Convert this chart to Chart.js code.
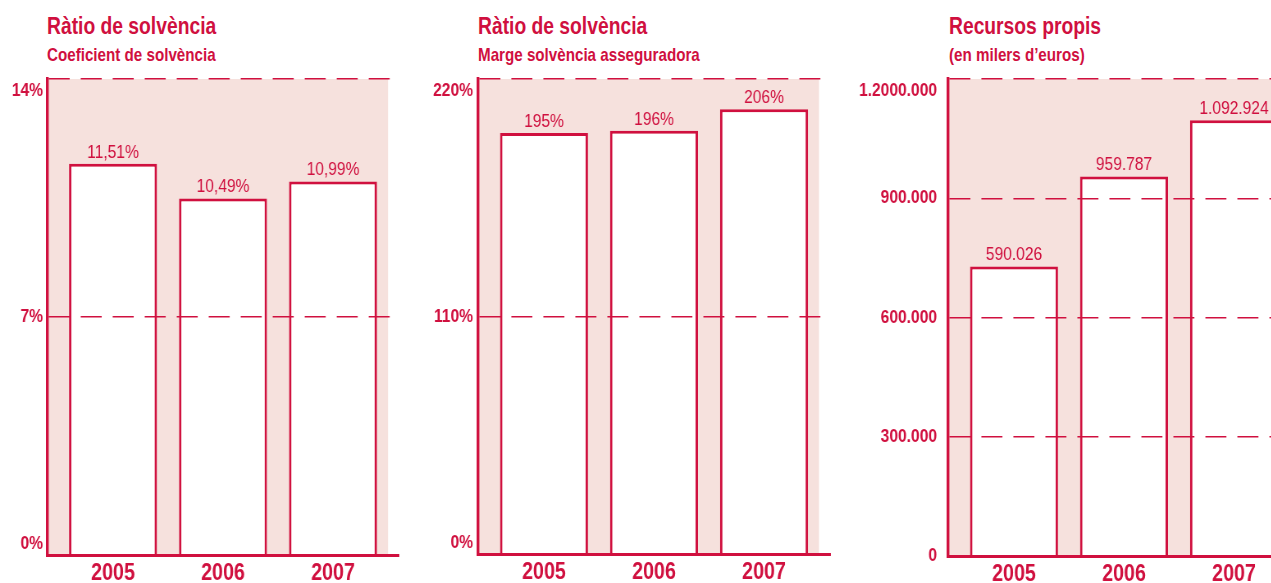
<!DOCTYPE html>
<html>
<head>
<meta charset="utf-8">
<script src="https://cdn.jsdelivr.net/npm/chart.js@4/dist/chart.umd.min.js"></script>
<style>
  body { margin: 0; width: 1271px; height: 583px; overflow: hidden; position: relative; background: #fff;
         font-family: 'Liberation Sans', Arial, sans-serif; color: #D0103F; }
  /* Liberation Sans squeezed to a condensed look */
  canvas { position: absolute; top: 0; transform: scaleX(0.82); transform-origin: 0 0; }
  .titol, .sub { position: absolute; white-space: nowrap; font-weight: bold; transform: scaleX(0.82); transform-origin: 0 0; }
  .titol { font-size: 23.5px; line-height: 23.5px; top: 15px; }
  .sub { font-size: 18.5px; line-height: 18.5px; top: 46px; }
</style>
</head>
<body>
<div class="titol" style="left:47px">Ràtio de solvència</div>
<div class="sub" style="left:47px">Coeficient de solvència</div>
<div class="titol" style="left:478px">Ràtio de solvència</div>
<div class="sub" style="left:478px">Marge solvència asseguradora</div>
<div class="titol" style="left:949px">Recursos propis</div>
<div class="sub" style="left:949px">(en milers d’euros)</div>

<canvas id="c1" style="left:0px"></canvas>
<canvas id="c2" style="left:420px"></canvas>
<canvas id="c3" style="left:840px"></canvas>

<script>
const anys = ['2005', '2006', '2007'];

const coeficient = [11.51, 10.49, 10.99];
const coeficientEtiq = ['11,51%', '10,49%', '10,99%'];
const coeficientTics = [0, 7, 14];
const coeficientTicsEtiq = ['0%', '7%', '14%'];

const marge = [195, 196, 206];
const margeEtiq = ['195%', '196%', '206%'];
const margeTics = [0, 110, 220];
const margeTicsEtiq = ['0%', '110%', '220%'];

// bar heights as drawn in the picture (the 2005 bar is drawn taller than its label says)
const recursos = [728500, 955000, 1096000];
const recursosEtiq = ['590.026', '959.787', '1.092.924'];
const recursosTics = [0, 300000, 600000, 900000, 1200000];
const recursosTicsEtiq = ['0', '300.000', '600.000', '900.000', '1.2000.000'];

const VERMELL = '#D0103F';
const ROSA = '#F6E1DD';
const FONT = "'Liberation Sans', Arial, sans-serif";
const K = 0.82;   // horizontal squeeze applied to each canvas by CSS

function panell(id, cfg) {
  const canvas = document.getElementById(id);
  canvas.width = Math.round(cfg.ample / K);
  canvas.height = 583;
  const eix = cfg.eix / K;
  const areaAmple = 352 / K;

  // pink block behind the bars
  const fons = {
    id: 'fons',
    beforeDatasetsDraw(chart) {
      const { ctx, chartArea, scales } = chart;
      const x2 = scales.x.getPixelForValue(2.5);
      ctx.save();
      ctx.fillStyle = ROSA;
      ctx.fillRect(chartArea.left, chartArea.top, x2 - chartArea.left, chartArea.bottom - chartArea.top);
      ctx.restore();
    }
  };

  // value labels above each bar
  const etiquetes = {
    id: 'etiquetes',
    afterDatasetsDraw(chart) {
      const ctx = chart.ctx;
      ctx.save();
      ctx.fillStyle = VERMELL;
      ctx.font = '19px ' + FONT;
      ctx.textAlign = 'center';
      ctx.textBaseline = 'alphabetic';
      chart.getDatasetMeta(0).data.forEach((bar, i) => {
        ctx.fillText(cfg.etiq[i], bar.x, bar.y - 6);
      });
      ctx.restore();
    }
  };

  const last = cfg.tics.length - 1;

  return new Chart(canvas, {
    type: 'bar',
    data: {
      datasets: [{
        data: cfg.valors.map((v, i) => ({ x: i, y: v })),
        backgroundColor: '#fff',
        borderColor: VERMELL,
        borderWidth: 3,
        categoryPercentage: 1,
        barPercentage: 0.8
      }]
    },
    options: {
      responsive: false,
      animation: false,
      layout: { padding: { left: 0, top: 79, right: canvas.width - eix - areaAmple, bottom: 0 } },
      plugins: { legend: { display: false }, tooltip: { enabled: false } },
      scales: {
        x: {
          type: 'linear',
          offset: false,
          min: -0.6,
          max: 2.6,
          afterFit: s => { s.height = 27; },
          afterBuildTicks: s => { s.ticks = anys.map((a, i) => ({ value: i })); },
          grid: { display: false, drawTicks: false },
          border: { display: true, color: VERMELL, width: 3, z: 1 },
          ticks: {
            autoSkip: false,
            maxRotation: 0,
            padding: 4,
            color: VERMELL,
            font: { family: FONT, size: 24, weight: 'bold' },
            callback: v => anys[v]
          }
        },
        y: {
          min: 0,
          max: cfg.tics[last],
          afterFit: s => { s.width = eix; },
          afterBuildTicks: s => { s.ticks = cfg.tics.map(v => ({ value: v })); },
          grid: { color: VERMELL, lineWidth: 1.5, drawTicks: false, z: 1 },
          border: { display: true, color: VERMELL, width: 3.4, dash: [21 / K, 11 / K], z: 1 },
          ticks: {
            padding: cfg.pad / K,
            color: VERMELL,
            font: { family: FONT, size: 19, weight: 'bold' },
            callback: (v, i) => {
              const t = cfg.ticsEtiq[i];
              if (i === last) return ['', t];
              if (i === 0 && cfg.baixa) return [t, ''];
              return t;
            }
          }
        }
      }
    },
    plugins: [fons, etiquetes]
  });
}

panell('c1', { ample: 420, eix: 47, pad: 4, baixa: true, valors: coeficient, etiq: coeficientEtiq, tics: coeficientTics, ticsEtiq: coeficientTicsEtiq });
panell('c2', { ample: 430, eix: 58, pad: 5, baixa: true, valors: marge, etiq: margeEtiq, tics: margeTics, ticsEtiq: margeTicsEtiq });
panell('c3', { ample: 470, eix: 108, pad: 11, baixa: false, valors: recursos, etiq: recursosEtiq, tics: recursosTics, ticsEtiq: recursosTicsEtiq });
</script>
</body>
</html>
